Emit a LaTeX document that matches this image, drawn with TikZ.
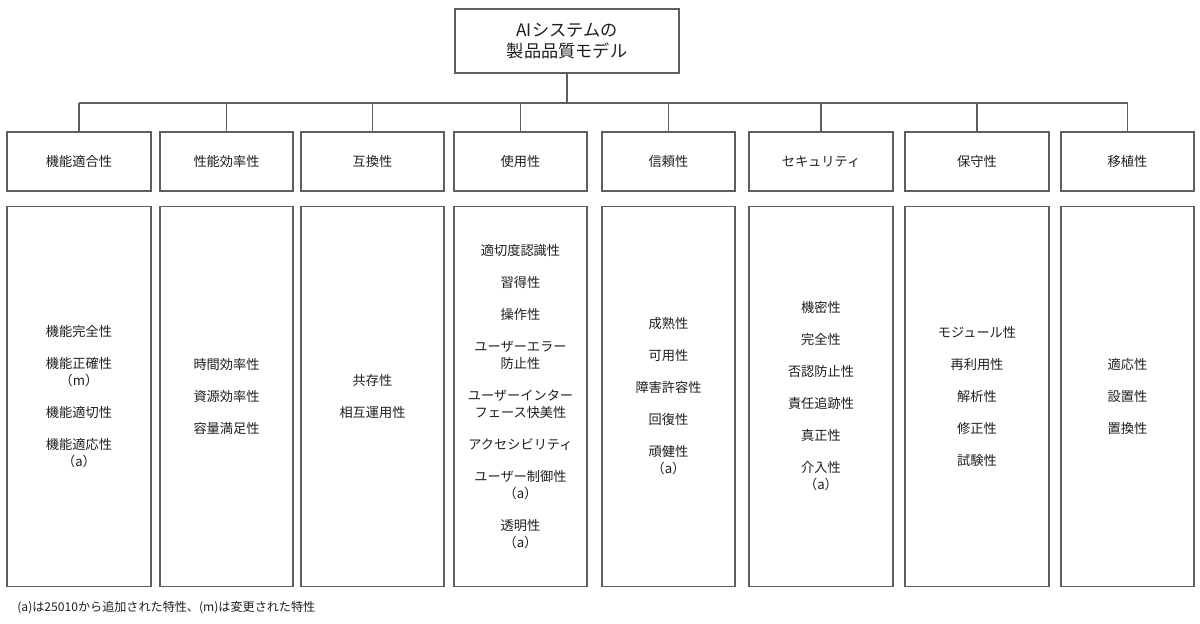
\documentclass[tikz,border=0pt]{standalone}
\usepackage{fontspec}
\setmainfont{Noto Sans CJK JP}
\usepackage{tikz}
\usetikzlibrary{positioning}
\definecolor{linegray}{RGB}{95,95,95}
\definecolor{textgray}{RGB}{30,30,30}
\tikzset{
	titlebox/.style={
		rectangle,
		draw=linegray,
		line width=0.7pt,
		align=center,
		text=textgray,
		minimum width=112pt,
		minimum height=32pt,
		font=\fontsize{8.6}{10.2}\selectfont
	},
	catbox/.style={
		rectangle,
		draw=linegray,
		line width=0.7pt,
		align=center,
		text=textgray,
		minimum width=#1,
		minimum height=29.5pt,
		font=\fontsize{6.6}{8.5}\selectfont
	},
	itembox/.style={
		rectangle,
		draw=linegray,
		line width=0.7pt,
		align=center,
		text=textgray,
		minimum width=#1,
		minimum height=190pt,
		font=\fontsize{6.6}{8.5}\selectfont
	},
	link/.style={draw=linegray,line width=0.6pt}
}

\begin{document}
\begin{tikzpicture}[x=0.5pt,y=-0.5pt,node distance=7pt]
		\useasboundingbox (0,0) rectangle (1200,623);

		\node[titlebox] (model) at (567,41) {AIシステムの\\製品品質モデル};

		\node[catbox=72pt] (func) at (79,161.5) {機能適合性};
		\node[catbox=66.5pt] (perf) at (226.5,161.5) {性能効率性};
		\node[catbox=71.5pt] (compat) at (372.5,161.5) {互換性};
		\node[catbox=66.5pt] (usab) at (520.5,161.5) {使用性};
		\node[catbox=66.5pt] (relia) at (668.5,161.5) {信頼性};
		\node[catbox=72pt] (secu) at (821,161.5) {セキュリティ};
		\node[catbox=72pt] (maint) at (977,161.5) {保守性};
		\node[catbox=66.5pt] (port) at (1127.5,161.5) {移植性};

		\node[itembox=72pt,below=of func] (funcitems) {機能完全性\\[7.5pt]機能正確性\\（m）\\[7.5pt]機能適切性\\[7.5pt]機能適応性\\（a）};
		\node[itembox=66.5pt,below=of perf] (perfitems) {時間効率性\\[7.5pt]資源効率性\\[7.5pt]容量満足性};
		\node[itembox=71.5pt,below=of compat] (compatitems) {共存性\\[7.5pt]相互運用性};
		\node[itembox=66.5pt,below=of usab] (usabitems) {適切度認識性\\[7.5pt]習得性\\[7.5pt]操作性\\[7.5pt]ユーザーエラー\\防止性\\[7.5pt]ユーザーインター\\フェース快美性\\[7.5pt]アクセシビリティ\\[7.5pt]ユーザー制御性\\（a）\\[7.5pt]透明性\\（a）};
		\node[itembox=66.5pt,below=of relia] (reliaitems) {成熟性\\[7.5pt]可用性\\[7.5pt]障害許容性\\[7.5pt]回復性\\[7.5pt]頑健性\\（a）};
		\node[itembox=72pt,below=of secu] (secuitems) {機密性\\[7.5pt]完全性\\[7.5pt]否認防止性\\[7.5pt]責任追跡性\\[7.5pt]真正性\\[7.5pt]介入性\\（a）};
		\node[itembox=72pt,below=of maint] (maintitems) {モジュール性\\[7.5pt]再利用性\\[7.5pt]解析性\\[7.5pt]修正性\\[7.5pt]試験性};
		\node[itembox=66.5pt,below=of port] (portitems) {適応性\\[7.5pt]設置性\\[7.5pt]置換性};

		\node[anchor=west,inner sep=0pt,text=textgray,font=\fontsize{6.05}{7.5}\selectfont] (note) at (17,608) {(a)は25010から追加された特性、(m)は変更された特性};

		% tree lines
		\coordinate (bus) at (567,103);
		\draw[link] (model.south) -- (bus);
		\draw[link] (bus -| func.north) -- (bus -| port.north);
		\draw[link] (bus -| func.north) -- (func.north);
		\draw[link] (bus -| perf.north) -- (perf.north);
		\draw[link] (bus -| compat.north) -- (compat.north);
		\draw[link] (bus -| usab.north) -- (usab.north);
		\draw[link] (bus -| relia.north) -- (relia.north);
		\draw[link] (bus -| secu.north) -- (secu.north);
		\draw[link] (bus -| maint.north) -- (maint.north);
		\draw[link] (bus -| port.north) -- (port.north);
	\end{tikzpicture}
\end{document}
